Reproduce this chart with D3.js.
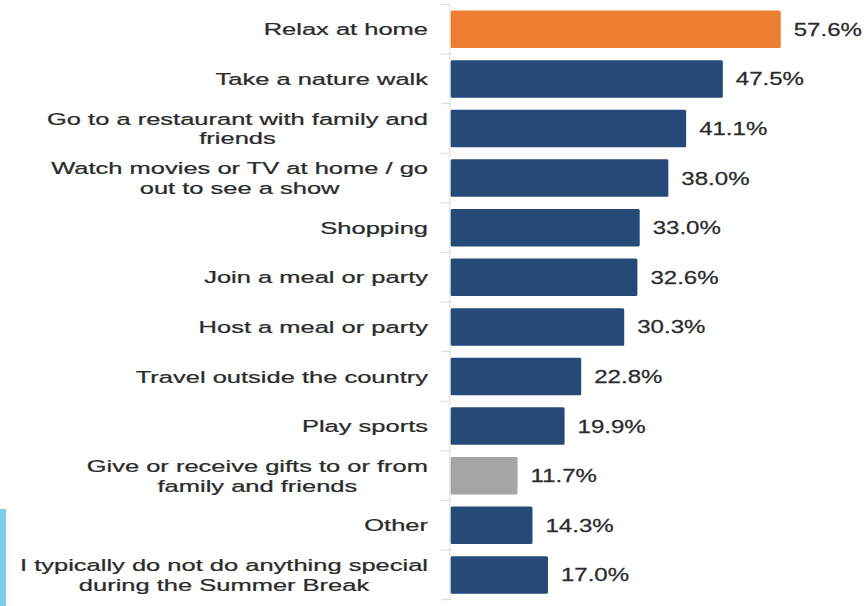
<!DOCTYPE html>
<html>
<head>
<meta charset="utf-8">
<script src="https://cdn.jsdelivr.net/npm/d3@7"></script>
<style>
  html, body { margin: 0; padding: 0; background: #ffffff; }
  svg { display: block; }
  text { font-family: "Liberation Sans", Arial, sans-serif; }
</style>
</head>
<body>
<svg id="chart" width="866" height="606"></svg>
<script>
// Summer break activities (share of respondents, %)
const categories = [
  "Relax at home",
  "Take a nature walk",
  "Go to a restaurant with family and\nfriends",
  "Watch movies or TV at home / go\nout to see a show",
  "Shopping",
  "Join a meal or party",
  "Host a meal or party",
  "Travel outside the country",
  "Play sports",
  "Give or receive gifts to or from\nfamily and friends",
  "Other",
  "I typically do not do anything special\nduring the Summer Break"
];
const values = [57.6, 47.5, 41.1, 38.0, 33.0, 32.6, 30.3, 22.8, 19.9, 11.7, 14.3, 17.0];
const highlighted = "Relax at home";
const muted = "Give or receive gifts to or from\nfamily and friends";

const svg = d3.select("#chart");

const x = d3.scaleLinear().domain([0, 60]).range([450.5, 794.5]);
const y = d3.scaleBand()
  .domain(categories)
  .range([4.5, 599.7])
  .paddingInner(0.244)
  .paddingOuter(0.122);

const colour = c => c === highlighted ? "#ED7D31" : (c === muted ? "#A5A5A5" : "#254A77");
const textColour = "#2B2B2B";

// side accent strip
svg.append("rect")
  .attr("x", 0).attr("y", 509).attr("width", 6).attr("height", 97)
  .attr("fill", "#79D0EE");

// bars
svg.append("g").selectAll("rect")
  .data(categories)
  .join("rect")
  .attr("x", x(0))
  .attr("y", c => y(c))
  .attr("width", (c, i) => x(values[i]) - x(0))
  .attr("height", y.bandwidth())
  .attr("rx", 1.5)
  .attr("fill", c => colour(c));

// category axis: line + ticks between bands
const axis = svg.append("g");
const step = y.step();
const y0 = y.range()[0];
axis.append("line")
  .attr("x1", 450).attr("x2", 450)
  .attr("y1", y0).attr("y2", y.range()[1])
  .attr("stroke", "#D9D9D9").attr("stroke-width", 1);
axis.selectAll("line.tick")
  .data(d3.range(categories.length + 1))
  .join("line")
  .attr("class", "tick")
  .attr("x1", 441).attr("x2", 450)
  .attr("y1", k => y0 + k * step)
  .attr("y2", k => y0 + k * step)
  .attr("stroke", "#D9D9D9").attr("stroke-width", 1);

// category labels (wide face, right aligned)
const lineGap = 20;
const labels = svg.append("g").selectAll("g")
  .data(categories)
  .join("g")
  .attr("transform", c => {
    const lines = c.split("\n").length;
    const cy = y(c) + y.bandwidth() / 2;
    const base = cy + 6 - (lines - 1) * lineGap / 2;
    return `translate(428,${base}) scale(1.5,1)`;
  });
labels.each(function(c) {
  const g = d3.select(this);
  c.split("\n").forEach((ln, j) => {
    g.append("text")
      .attr("x", 0)
      .attr("y", j * lineGap)
      .attr("text-anchor", "end")
      .attr("font-size", 17)
      .attr("fill", textColour)
      .attr("stroke", textColour)
      .attr("stroke-width", 0.25)
      .text(ln);
  });
});

// wrapped lines are centred under the first line's span
labels.each(function(c) {
  const parts = c.split("\n");
  if (parts.length < 2) return;
  const texts = d3.select(this).selectAll("text").nodes();
  const w0 = texts[0].getComputedTextLength();
  texts.slice(1).forEach(t => {
    d3.select(t).attr("text-anchor", "middle").attr("x", -w0 / 2);
  });
});

// value labels
svg.append("g").selectAll("text")
  .data(categories)
  .join("text")
  .attr("transform", (c, i) => `translate(${x(values[i]) + 13},${y(c) + y.bandwidth() / 2 + 6.5}) scale(1.3,1)`)
  .attr("font-size", 18.5)
  .attr("fill", textColour)
  .attr("stroke", textColour)
  .attr("stroke-width", 0.25)
  .text((c, i) => values[i].toFixed(1) + "%");
</script>
</body>
</html>
